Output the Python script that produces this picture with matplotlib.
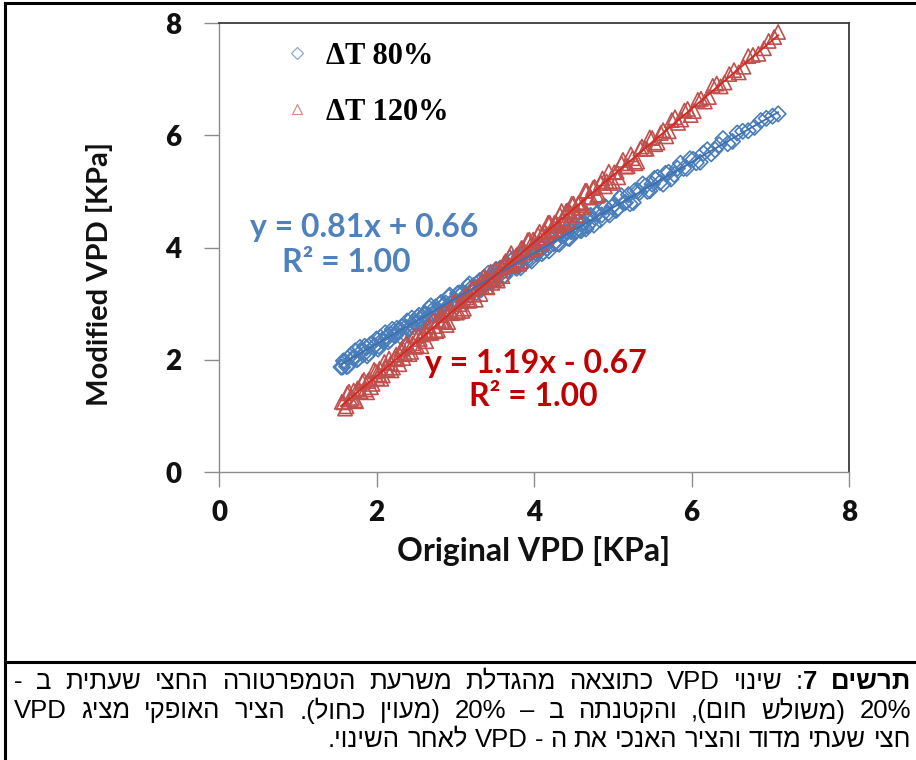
import re
import matplotlib
matplotlib.use("Agg")
import matplotlib.pyplot as plt
from matplotlib.lines import Line2D

# ---- data -------------------------------------------------------------
original_vpd_80 = [1.55, 1.58, 1.62, 1.66, 1.70, 1.73, 1.77, 1.81, 1.85, 1.88, 1.92, 1.96,
                   2.00, 2.03, 2.07, 2.11, 2.15, 2.18, 2.22, 2.26, 2.30, 2.33, 2.37, 2.41,
                   2.45, 2.48, 2.52, 2.56, 2.60, 2.63, 2.67, 2.71, 2.75, 2.78, 2.82, 2.86,
                   2.90, 2.93, 2.97, 3.01, 3.05, 3.08, 3.12, 3.16, 3.20, 3.23, 3.27, 3.31,
                   3.35, 3.38, 3.42, 3.46, 3.50, 3.53, 3.57, 3.61, 3.65, 3.68, 3.72, 3.76,
                   3.80, 3.83, 3.87, 3.91, 3.95, 3.98, 4.02, 4.06, 4.10, 4.13, 4.17, 4.21,
                   4.25, 4.28, 4.32, 4.36, 4.40, 4.43, 4.47, 4.51, 4.55, 4.58, 4.62, 4.66,
                   4.70, 4.74, 4.79, 4.84, 4.89, 4.94, 4.99, 5.04, 5.09, 5.14, 5.20, 5.26,
                   5.32, 5.38, 5.44, 5.50, 5.57, 5.64, 5.71, 5.78, 5.86, 5.94, 6.02, 6.11,
                   6.20, 6.30, 6.40, 6.52, 6.65, 6.80, 6.95, 7.10,
                   1.57, 1.60, 1.64, 1.68, 1.72, 1.75, 1.79, 1.83, 1.87, 1.90, 1.94, 1.98,
                   2.02, 2.05, 2.09, 2.13, 2.17, 2.20, 2.24, 2.28, 2.32, 2.35, 2.39, 2.43,
                   2.47, 2.50, 2.54, 2.58, 2.62, 2.65, 2.69, 2.73, 2.77, 2.80, 2.84, 2.88,
                   2.92, 2.95, 2.99, 3.03, 3.07, 3.10, 3.14, 3.18, 3.22, 3.25, 3.29, 3.33,
                   3.37, 3.40, 3.44, 3.48, 3.52, 3.55, 3.59, 3.63, 3.67, 3.70, 3.74, 3.78,
                   3.82, 3.85, 3.89, 3.93, 3.97, 4.00, 4.04, 4.08, 4.12, 4.15, 4.19, 4.23,
                   4.27, 4.30, 4.34, 4.38, 4.42, 4.45, 4.49, 4.53, 4.57, 4.60, 4.64, 4.68,
                   4.72, 4.76, 4.81, 4.86, 4.91, 4.96, 5.01, 5.06, 5.11, 5.16, 5.22, 5.28,
                   5.34, 5.41, 5.47, 5.53, 5.60, 5.67, 5.74, 5.82, 5.90, 5.98, 6.06, 6.15,
                   6.25, 6.35, 6.46, 6.58, 6.72, 6.88, 7.03]
modified_vpd_80 = [1.87, 1.98, 1.88, 2.06, 2.03, 2.16, 2.02, 2.15, 2.24, 2.07, 2.27, 2.22,
                   2.37, 2.24, 2.35, 2.48, 2.32, 2.46, 2.44, 2.56, 2.42, 2.59, 2.58, 2.56,
                   2.74, 2.58, 2.76, 2.72, 2.80, 2.72, 2.92, 2.82, 2.94, 2.79, 3.02, 2.99,
                   2.95, 3.15, 3.05, 3.01, 3.19, 3.18, 3.12, 3.31, 3.22, 3.32, 3.20, 3.41,
                   3.37, 3.35, 3.54, 3.38, 3.53, 3.51, 3.63, 3.48, 3.67, 3.60, 3.77, 3.65,
                   3.76, 3.64, 3.89, 3.84, 3.79, 3.94, 3.90, 4.07, 3.89, 4.05, 3.99, 4.15,
                   4.07, 4.24, 4.06, 4.22, 4.29, 4.17, 4.28, 4.27, 4.45, 4.31, 4.45, 4.33,
                   4.56, 4.48, 4.60, 4.49, 4.74, 4.61, 4.72, 4.66, 4.88, 4.79, 4.94, 4.80,
                   5.01, 5.13, 5.00, 5.13, 5.25, 5.13, 5.34, 5.30, 5.50, 5.41, 5.57, 5.52,
                   5.74, 5.74, 5.94, 5.89, 6.07, 6.14, 6.30, 6.38,
                   1.87, 1.97, 1.89, 2.09, 2.03, 2.00, 2.22, 2.09, 2.21, 2.11, 2.29, 2.25,
                   2.19, 2.40, 2.32, 2.41, 2.35, 2.54, 2.43, 2.51, 2.59, 2.47, 2.69, 2.57,
                   2.67, 2.66, 2.79, 2.65, 2.82, 2.76, 2.96, 2.79, 2.89, 2.99, 2.84, 3.01,
                   3.12, 2.99, 3.06, 3.18, 3.06, 3.20, 3.16, 3.35, 3.20, 3.29, 3.38, 3.25,
                   3.47, 3.38, 3.46, 3.40, 3.61, 3.49, 3.61, 3.50, 3.69, 3.64, 3.81, 3.63,
                   3.74, 3.85, 3.75, 3.86, 3.76, 3.99, 3.89, 4.02, 3.92, 4.05, 3.94, 4.19,
                   4.09, 4.07, 4.26, 4.21, 4.28, 4.16, 4.36, 4.28, 4.47, 4.30, 4.44, 4.39,
                   4.57, 4.40, 4.61, 4.58, 4.72, 4.58, 4.75, 4.69, 4.92, 4.80, 4.78, 5.01,
                   4.98, 5.09, 5.01, 5.23, 5.16, 5.32, 5.22, 5.41, 5.41, 5.58, 5.51, 5.68,
                   5.67, 5.83, 5.85, 6.04, 6.08, 6.26, 6.34]

original_vpd_120 = [1.56, 1.60, 1.63, 1.67, 1.71, 1.74, 1.78, 1.82, 1.86, 1.89, 1.93, 1.97,
                    2.01, 2.04, 2.08, 2.12, 2.16, 2.19, 2.23, 2.27, 2.31, 2.34, 2.38, 2.42,
                    2.46, 2.49, 2.53, 2.57, 2.61, 2.64, 2.68, 2.72, 2.76, 2.79, 2.83, 2.87,
                    2.91, 2.94, 2.98, 3.02, 3.06, 3.09, 3.13, 3.17, 3.21, 3.24, 3.28, 3.32,
                    3.36, 3.39, 3.43, 3.47, 3.51, 3.54, 3.58, 3.62, 3.66, 3.69, 3.73, 3.77,
                    3.81, 3.84, 3.88, 3.92, 3.96, 3.99, 4.03, 4.07, 4.11, 4.14, 4.18, 4.22,
                    4.26, 4.29, 4.33, 4.37, 4.41, 4.44, 4.48, 4.52, 4.56, 4.60, 4.65, 4.70,
                    4.75, 4.80, 4.85, 4.90, 4.95, 5.00, 5.05, 5.11, 5.17, 5.23, 5.29, 5.35,
                    5.41, 5.47, 5.54, 5.61, 5.68, 5.75, 5.83, 5.91, 5.99, 6.08, 6.17, 6.27,
                    6.37, 6.48, 6.60, 6.72, 6.85, 6.98, 7.10,
                    1.58, 1.62, 1.65, 1.69, 1.73, 1.76, 1.80, 1.84, 1.88, 1.91, 1.95, 1.99,
                    2.03, 2.06, 2.10, 2.14, 2.18, 2.21, 2.25, 2.29, 2.33, 2.36, 2.40, 2.44,
                    2.48, 2.51, 2.55, 2.59, 2.63, 2.66, 2.70, 2.74, 2.78, 2.81, 2.85, 2.89,
                    2.93, 2.96, 3.00, 3.04, 3.08, 3.11, 3.15, 3.19, 3.23, 3.26, 3.30, 3.34,
                    3.38, 3.41, 3.45, 3.49, 3.53, 3.56, 3.60, 3.64, 3.68, 3.71, 3.75, 3.79,
                    3.83, 3.86, 3.90, 3.94, 3.98, 4.01, 4.05, 4.09, 4.13, 4.16, 4.20, 4.24,
                    4.28, 4.31, 4.35, 4.39, 4.43, 4.46, 4.50, 4.54, 4.58, 4.62, 4.67, 4.72,
                    4.77, 4.82, 4.87, 4.92, 4.97, 5.02, 5.07, 5.13, 5.19, 5.25, 5.31, 5.37,
                    5.43, 5.50, 5.57, 5.64, 5.71, 5.79, 5.87, 5.95, 6.03, 6.12, 6.22, 6.32,
                    6.42, 6.54, 6.66, 6.78, 6.92, 7.05]
modified_vpd_120 = [1.25, 1.13, 1.40, 1.29, 1.45, 1.26, 1.47, 1.61, 1.47, 1.62, 1.51, 1.82,
                    1.67, 1.84, 1.72, 1.86, 2.02, 1.81, 2.03, 2.01, 2.18, 2.03, 2.30, 2.10,
                    2.29, 2.23, 2.43, 2.24, 2.51, 2.47, 2.48, 2.70, 2.51, 2.71, 2.69, 2.86,
                    2.67, 2.87, 3.03, 2.84, 2.99, 2.87, 3.15, 3.05, 3.27, 3.16, 3.30, 3.17,
                    3.47, 3.30, 3.42, 3.37, 3.61, 3.41, 3.64, 3.72, 3.67, 3.84, 3.67, 3.85,
                    3.71, 3.99, 3.91, 4.13, 3.97, 4.14, 4.01, 4.28, 4.22, 4.18, 4.44, 4.30,
                    4.44, 4.33, 4.58, 4.51, 4.65, 4.47, 4.78, 4.65, 4.78, 4.71, 5.01, 4.89,
                    5.06, 4.92, 5.15, 5.09, 5.35, 5.18, 5.35, 5.50, 5.44, 5.66, 5.50, 5.76,
                    5.76, 5.96, 5.84, 6.04, 5.98, 6.27, 6.22, 6.44, 6.36, 6.63, 6.60, 6.88,
                    6.87, 7.09, 7.12, 7.41, 7.45, 7.68, 7.84,
                    1.24, 1.17, 1.43, 1.32, 1.28, 1.49, 1.43, 1.64, 1.42, 1.65, 1.57, 1.79,
                    1.74, 1.66, 1.96, 1.83, 1.94, 1.86, 2.09, 1.92, 2.21, 2.11, 2.25, 2.14,
                    2.43, 2.25, 2.37, 2.45, 2.33, 2.60, 2.48, 2.60, 2.53, 2.79, 2.68, 2.62,
                    2.90, 2.83, 3.04, 2.86, 3.05, 2.91, 3.11, 3.06, 3.28, 3.07, 3.32, 3.30,
                    3.44, 3.29, 3.57, 3.43, 3.45, 3.59, 3.49, 3.76, 3.68, 3.90, 3.70, 3.88,
                    3.76, 3.99, 3.91, 4.14, 3.96, 4.10, 4.23, 4.06, 4.30, 4.24, 4.44, 4.28,
                    4.44, 4.39, 4.65, 4.43, 4.66, 4.62, 4.78, 4.58, 4.81, 4.75, 5.01, 4.90,
                    5.08, 4.94, 5.23, 5.18, 5.15, 5.34, 5.25, 5.56, 5.45, 5.59, 5.53, 5.80,
                    5.76, 5.95, 5.87, 6.09, 6.07, 6.32, 6.28, 6.47, 6.43, 6.65, 6.68, 6.92,
                    6.94, 7.16, 7.22, 7.43, 7.55, 7.75]

# linear trend lines (slope, intercept, R^2) and their x extent
slope_80, intercept_80, r2_80 = 0.81, 0.66, 1.00
slope_120, intercept_120, r2_120 = 1.19, -0.67, 1.00
trend_x = [1.55, 7.10]

series_labels = ["\u0394T 80%", "\u0394T 120%"]
axis_ticks = [0, 2, 4, 6, 8]

caption_bold = "תרשים 7"
caption_lines = [
    ": שינוי VPD כתוצאה מהגדלת משרעת הטמפרטורה החצי שעתית ב -",
    "20% (משולש חום), והקטנתה ב – 20% (מעוין כחול). הציר האופקי מציג VPD",
    "חצי שעתי מדוד והציר האנכי את ה - VPD לאחר השינוי.",
]

BLUE = "#4A7EBB"
RED = "#C0504D"
BLUE_TEXT = "#4F81BD"
RED_TEXT = "#C00000"

W, H = 916, 760


def px(x, y):
    """pixel position (from top-left) -> figure fraction"""
    return x / W, 1 - y / H


def visual(s):
    """lay out a right-to-left paragraph in display order"""
    parts = re.findall(r"[A-Za-z0-9%]+|[^A-Za-z0-9%]+", s)
    mirror = str.maketrans("()", ")(")
    out = []
    for p in reversed(parts):
        if re.match(r"[A-Za-z0-9%]", p):
            out.append(p)
        else:
            out.append(p[::-1].translate(mirror))
    return "".join(out)


fig = plt.figure(figsize=(W / 100, H / 100), dpi=100)
fig.patch.set_facecolor("white")

# ---- scatter plot -----------------------------------------------------
x0, y0 = px(219, 472)
x1, y1 = px(849, 23)
ax = fig.add_axes([x0, y0, x1 - x0, y1 - y0])

ax.scatter(original_vpd_80, modified_vpd_80, marker="D", s=62, facecolors="none",
           edgecolors=BLUE, linewidths=1.2, zorder=3)
ax.scatter(original_vpd_120, modified_vpd_120, marker="^", s=105, facecolors="none",
           edgecolors=RED, linewidths=1.2, zorder=4)

ax.plot(trend_x, [slope_80 * v + intercept_80 for v in trend_x], color="#3F6FAF",
        lw=1.3, zorder=5)
ax.plot(trend_x, [slope_120 * v + intercept_120 for v in trend_x], color="#D42A22",
        lw=1.4, zorder=6)

ax.set_xlim(0, 8)
ax.set_ylim(0, 8)
ax.set_xticks(axis_ticks)
ax.set_yticks(axis_ticks)
ax.set_xticklabels([str(t) for t in axis_ticks])
ax.set_yticklabels([str(t) for t in axis_ticks])

for side in ("left", "bottom"):
    ax.spines[side].set_color("#8C8C8C")
    ax.spines[side].set_linewidth(1.0)
for side in ("top", "right"):
    ax.spines[side].set_color("#3C3C3C")
    ax.spines[side].set_linewidth(1.3)

ax.tick_params(axis="both", direction="out", length=11, width=1.0, color="#8C8C8C",
               labelsize=20, labelcolor="#111111")
ax.tick_params(axis="x", pad=9)
ax.tick_params(axis="y", pad=16)
for lab in ax.get_xticklabels() + ax.get_yticklabels():
    lab.set_fontfamily("Lato")
    lab.set_fontweight("heavy")

# legend
handles = [
    Line2D([], [], ls="none", marker="D", ms=6, mfc="none", mec=BLUE, mew=0.9, alpha=0.65),
    Line2D([], [], ls="none", marker="^", ms=7, mfc="none", mec=RED, mew=0.9, alpha=0.65),
]
ax.legend(handles, series_labels, loc="upper left", bbox_to_anchor=(0.07, 1.005),
          frameon=False, labelspacing=0.88, handlelength=0.8, handletextpad=0.55,
          borderaxespad=0.3,
          prop={"family": "Liberation Serif", "weight": "bold", "size": 22})

# trend-line equations
eq_font = {"family": "Lato", "weight": "bold", "size": 23}
fig.text(*px(364, 228), f"y = {slope_80:.2f}x + {intercept_80:.2f}", color=BLUE_TEXT,
         ha="center", va="center", **eq_font)
fig.text(*px(346, 262), f"R\u00b2 = {r2_80:.2f}", color=BLUE_TEXT,
         ha="center", va="center", **eq_font)
fig.text(*px(536, 364), f"y = {slope_120:.2f}x - {abs(intercept_120):.2f}", color=RED_TEXT,
         ha="center", va="center", **eq_font)
fig.text(*px(533, 397), f"R\u00b2 = {r2_120:.2f}", color=RED_TEXT,
         ha="center", va="center", **eq_font)

# axis titles
fig.text(*px(100, 274), "Modified VPD [KPa]", rotation=90, ha="center", va="center",
         family="Lato", weight="bold", size=21, color="#111111")
fig.text(*px(534, 551), "Original VPD [KPa]", ha="center", va="center",
         family="Lato", weight="bold", size=23, color="#111111")

# ---- table frame ------------------------------------------------------
frame = dict(color="black", lw=2.2, transform=fig.transFigure, clip_on=False)
fig.add_artist(Line2D([5 / W, 1], [1 - 3 / H, 1 - 3 / H], **frame))
fig.add_artist(Line2D([5 / W, 5 / W], [0, 1 - 3 / H], **frame))
fig.add_artist(Line2D([5 / W, 1], [1 - 662 / H, 1 - 662 / H], **frame))

# ---- caption (right-to-left, first two lines justified) -----------------
cap_font = ["Liberation Sans", "DejaVu Sans"]
cap_size = 18.5
renderer = fig.canvas.get_renderer()


def text_width(s, weight):
    t = fig.text(0, 0, s, family=cap_font, size=cap_size, weight=weight)
    w = t.get_window_extent(renderer).width
    t.remove()
    return w


def draw_words(words, y, left, right, justify):
    """words: list of lists of (text, weight) pieces, in display order"""
    widths = [[text_width(s, wt) for s, wt in word] for word in words]
    totals = [sum(w) for w in widths]
    space = text_width("a a", "normal") - text_width("aa", "normal")
    if justify and len(words) > 1:
        gap = (right - left - sum(totals)) / (len(words) - 1)
        x = left
    else:
        gap = space
        x = right - sum(totals) - gap * (len(words) - 1)
    for word, ws in zip(words, widths):
        for (s, wt), w in zip(word, ws):
            fig.text(x / W, 1 - y / H, s, family=cap_font, size=cap_size, weight=wt,
                     ha="left", va="center")
            x += w
        x += gap


line1 = [[(w, "normal")] for w in visual(caption_lines[0]).split(" ")]
bold_words = visual(caption_bold).split(" ")
line1[-1] = line1[-1] + [(bold_words[0], "bold")]
line1 += [[(w, "bold")] for w in bold_words[1:]]
line2 = [[(w, "normal")] for w in visual(caption_lines[1]).split(" ")]
line3 = [[(w, "normal")] for w in visual(caption_lines[2]).split(" ")]

draw_words(line1, 682, 14, 911, True)
draw_words(line2, 711, 14, 911, True)
draw_words(line3, 740, 14, 911, False)

fig.savefig("out.png", dpi=100, facecolor="white")
